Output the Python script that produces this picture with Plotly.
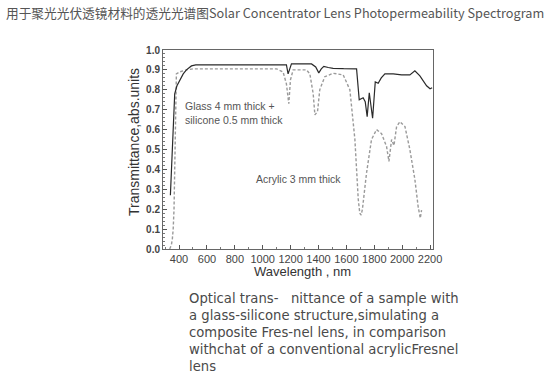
import plotly.graph_objects as go

# Glass 4 mm + silicone 0.5 mm (solid)
glass_wl = [338, 352, 369, 385, 405, 430, 453, 489, 520, 800, 1100, 1170, 1182, 1195, 1206, 1280, 1350, 1380, 1402, 1420, 1438, 1470, 1505, 1580, 1649, 1673,
            1692, 1720, 1735, 1749, 1764, 1775, 1788, 1807, 1828, 1850, 1876, 1936, 1996, 2055, 2091, 2127, 2175, 2200, 2215]
glass_t = [0.27, 0.50, 0.78, 0.82, 0.85, 0.88, 0.90, 0.92, 0.925, 0.925, 0.925, 0.925, 0.88, 0.91, 0.93, 0.93, 0.93, 0.915, 0.885, 0.905, 0.918, 0.912, 0.908, 0.906, 0.905, 0.905,
           0.75, 0.76, 0.74, 0.665, 0.785, 0.72, 0.657, 0.84, 0.833, 0.86, 0.88, 0.88, 0.875, 0.875, 0.895, 0.87, 0.82, 0.805, 0.81]

# Acrylic 3 mm (dashed)
acryl_wl = [333, 345, 352, 358, 364, 372, 381, 405, 453, 500, 800, 1099, 1146, 1170, 1187, 1199, 1218, 1314, 1338, 1362, 1374, 1393, 1409, 1445, 1505, 1577, 1625,
            1661, 1685, 1696, 1706, 1715, 1744, 1780, 1816, 1852, 1888, 1905, 1924, 1941, 1960, 1984, 2020, 2055, 2091, 2115, 2130, 2139]
acryl_t = [0.0, 0.02, 0.05, 0.10, 0.20, 0.60, 0.88, 0.89, 0.90, 0.905, 0.905, 0.905, 0.89, 0.83, 0.73, 0.85, 0.90, 0.90, 0.88, 0.78, 0.674, 0.69, 0.80, 0.866, 0.883, 0.875, 0.80,
           0.55, 0.25, 0.18, 0.17, 0.20, 0.38, 0.55, 0.60, 0.58, 0.515, 0.44, 0.55, 0.52, 0.615, 0.64, 0.615, 0.50, 0.35, 0.21, 0.155, 0.195]

y_ticks = [0.0, 0.1, 0.2, 0.3, 0.4, 0.5, 0.6, 0.7, 0.8, 0.9, 1.0]
x_ticks = [400, 600, 800, 1000, 1200, 1400, 1600, 1800, 2000, 2200]

title_text = "用于聚光光伏透镜材料的透光光谱图Solar Concentrator Lens Photopermeability Spectrogram"
caption_lines = [
    "Optical trans-   nittance of a sample with",
    "a glass-silicone structure,simulating a",
    "composite Fres-nel lens, in comparison",
    "withchat of a conventional acrylicFresnel",
    "lens",
]

W, H = 553, 377
L, R, T, B = 163, 120, 50, 128
pw, ph = W - L - R, H - T - B


def px(x):
    return (x - L) / pw


def py(y):
    return (H - B - y) / ph


fig = go.Figure()
fig.add_trace(go.Scatter(x=acryl_wl, y=acryl_t, mode="lines",
                         line=dict(color="#9a9a9a", width=1.4, dash="3px,2px"),
                         showlegend=False, hoverinfo="skip"))
fig.add_trace(go.Scatter(x=glass_wl, y=glass_t, mode="lines",
                         line=dict(color="#2a2a2a", width=1.2),
                         showlegend=False, hoverinfo="skip"))

font_main = "Liberation Sans, Arial, sans-serif"

fig.update_layout(
    width=W, height=H, autosize=False,
    margin=dict(l=L, r=R, t=T, b=B),
    paper_bgcolor="white", plot_bgcolor="white",
    xaxis=dict(range=[285, 2221], tickvals=x_ticks, ticktext=[str(v) for v in x_ticks],
               ticks="inside", ticklen=4, tickcolor="#555", showgrid=False, zeroline=False,
               showline=True, linecolor="#666", linewidth=1, mirror=True,
               tickfont=dict(family=font_main, size=11, color="#444"),
               minor=dict(ticks="inside", ticklen=2, dtick=100, tickcolor="#777")),
    yaxis=dict(range=[0, 1.0], tickvals=y_ticks, ticktext=[f"<b>{v:.1f}</b>" for v in y_ticks],
               ticks="inside", ticklen=4, tickcolor="#555", showgrid=False, zeroline=False,
               showline=True, linecolor="#666", linewidth=1, mirror=True,
               tickfont=dict(family=font_main, size=10, color="#444"),
               minor=dict(ticks="inside", ticklen=2, dtick=0.02, tickcolor="#777")),
)

fig.add_annotation(text=title_text, xref="paper", yref="paper", x=px(4), y=py(13),
                   xanchor="left", yanchor="middle", showarrow=False,
                   font=dict(family="Noto Sans CJK SC, Open Sans, sans-serif", size=12.7, color="#555"))
fig.add_annotation(text="Transmittance,abs.units", xref="paper", yref="paper", x=px(134), y=py(142),
                   xanchor="center", yanchor="middle", textangle=-90, showarrow=False,
                   font=dict(family=font_main, size=14, color="#333"))
fig.add_annotation(text="Wavelength , nm", xref="paper", yref="paper", x=px(302), y=py(271),
                   xanchor="center", yanchor="middle", showarrow=False,
                   font=dict(family=font_main, size=13, color="#333"))
fig.add_annotation(text="Glass 4 mm thick +<br>silicone 0.5 mm thick", x=428, y=0.685,
                   xanchor="left", yanchor="middle", align="left", showarrow=False,
                   font=dict(family=font_main, size=10.5, color="#555"))
fig.add_annotation(text="Acrylic 3 mm thick", x=941, y=0.35,
                   xanchor="left", yanchor="middle", showarrow=False,
                   font=dict(family=font_main, size=10.5, color="#555"))
for i, line in enumerate(caption_lines):
    fig.add_annotation(text=line, xref="paper", yref="paper", x=px(187), y=py(298 + i * 17.2),
                       xanchor="left", yanchor="middle", showarrow=False,
                       font=dict(family="DejaVu Sans, sans-serif", size=13.2, color="#4a4a4a"))

fig.write_html("out.html", post_script="document.body.style.margin='0';",
               config={"displayModeBar": False})
